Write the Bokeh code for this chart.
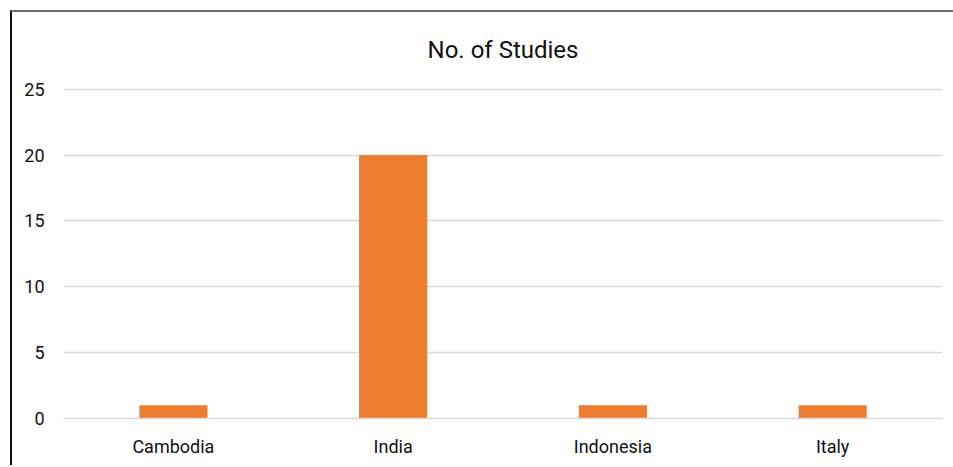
from bokeh.plotting import figure
from bokeh.models import Range1d, FactorRange, SingleIntervalTicker, ColumnDataSource
from bokeh.embed import file_html
from bokeh.resources import INLINE

countries = ["Cambodia", "India", "Indonesia", "Italy"]
studies = [1, 20, 1, 1]
title_text = "No. of Studies"

FONT = "Roboto"

src = ColumnDataSource(data=dict(x=countries, top=studies))

p = figure(
    x_range=FactorRange(*countries, range_padding=0),
    y_range=Range1d(0, 25.05),
    width=941, height=455,
    frame_width=879, frame_height=330,
    min_border_left=51, min_border_right=11, min_border_top=76, min_border_bottom=47,
    output_backend="svg", toolbar_location=None,
    title=title_text,
)
p.styles = {"margin-left": "10px", "margin-top": "10px",
            "border-left": "2px solid #111111", "border-top": "2px solid #6e6e6e"}

p.vbar(x="x", top="top", width=0.31, source=src, color="#ED7D31", line_color=None)

p.title.text_font = FONT
p.title.text_font_size = "24px"
p.title.text_font_style = "normal"
p.title.text_color = "#111111"
p.title.align = "center"
p.title.vertical_align = "top"
p.title.offset = 0
p.title.standoff = 46

p.outline_line_color = None
p.background_fill_color = "white"
p.border_fill_color = "white"

p.xgrid.grid_line_color = None
p.ygrid.grid_line_color = "#d9d9d9"
p.ygrid.grid_line_width = 1.5
p.yaxis.ticker = SingleIntervalTicker(interval=5)

for ax in (p.xaxis[0], p.yaxis[0]):
    ax.major_label_text_font = FONT
    ax.major_label_text_font_size = "18px"
    ax.major_label_text_color = "#111111"
    ax.major_tick_line_color = None
    ax.minor_tick_line_color = None
    ax.major_tick_out = 0
    ax.major_tick_in = 0

p.yaxis.axis_line_color = None
p.yaxis.major_label_standoff = 15
p.xaxis.axis_line_color = "#d9d9d9"
p.xaxis.axis_line_width = 1.5
p.xaxis.major_label_standoff = 17

open("out.html", "w").write(file_html(p, INLINE))
